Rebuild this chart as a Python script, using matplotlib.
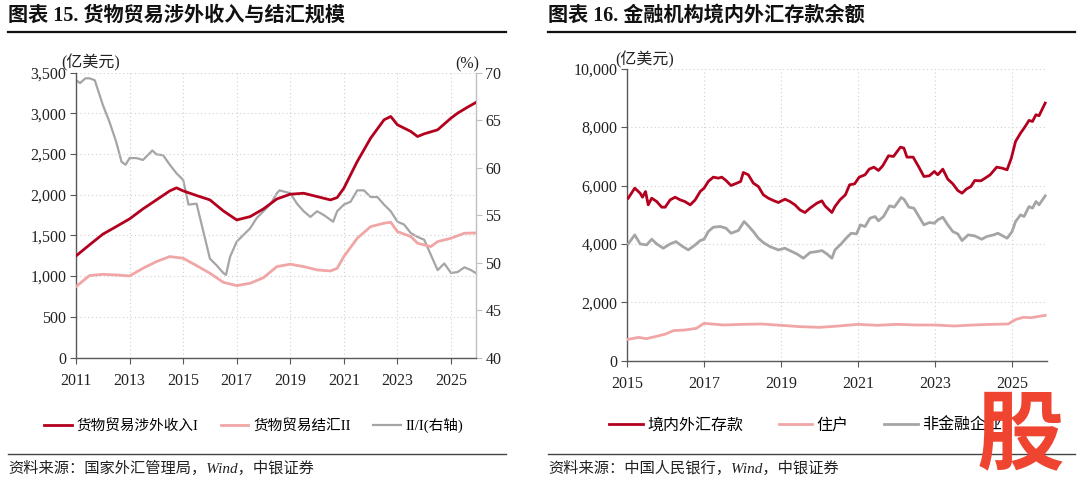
import numpy as np
import matplotlib
matplotlib.use("Agg")
import matplotlib.pyplot as plt
from matplotlib.lines import Line2D

plt.rcParams['font.family'] = ['Liberation Serif', 'Noto Sans CJK SC', 'DejaVu Sans']
plt.rcParams['axes.unicode_minus'] = False

#### Données : graphique 15 ####

# 货物贸易涉外收入I (亿美元)
t_inc = [2011.0, 2011.5, 2012.0, 2012.5, 2013.0, 2013.5, 2014.0, 2014.5, 2014.75, 2015.0,
         2015.5, 2016.0, 2016.5, 2017.0, 2017.5, 2018.0, 2018.5, 2019.0, 2019.5, 2020.0,
         2020.5, 2020.75, 2021.0, 2021.5, 2022.0, 2022.5, 2022.75, 2023.0, 2023.5, 2023.75,
         2024.0, 2024.5, 2025.0, 2025.25, 2025.6, 2025.92]
v_inc = [1248, 1383, 1515, 1608, 1703, 1826, 1936, 2047, 2084, 2047,
         1990, 1936, 1801, 1690, 1731, 1826, 1948, 2006, 2018, 1977,
         1936, 1965, 2080, 2408, 2695, 2920, 2961, 2859, 2777, 2715,
         2748, 2797, 2941, 3002, 3072, 3131]

# 货物贸易结汇II (亿美元)
t_set = [2011.0, 2011.5, 2012.0, 2012.5, 2013.0, 2013.5, 2014.0, 2014.5, 2015.0, 2015.5,
         2016.0, 2016.5, 2017.0, 2017.5, 2018.0, 2018.5, 2019.0, 2019.5, 2020.0, 2020.5,
         2020.75, 2021.0, 2021.5, 2022.0, 2022.5, 2022.75, 2023.0, 2023.5, 2023.75, 2024.0,
         2024.25, 2024.5, 2025.0, 2025.5, 2025.92]
v_set = [871, 1006, 1022, 1014, 1002, 1096, 1178, 1240, 1219, 1129,
         1035, 924, 883, 912, 981, 1117, 1146, 1117, 1076, 1063,
         1096, 1240, 1465, 1608, 1650, 1662, 1547, 1486, 1404, 1383,
         1363, 1424, 1465, 1527, 1530]

# II/I (%, 右轴)
t_ratio = [2011.0, 2011.15, 2011.35, 2011.5, 2011.7, 2012.0, 2012.25, 2012.5, 2012.7, 2012.85,
           2013.0, 2013.25, 2013.5, 2013.85, 2014.0, 2014.25, 2014.5, 2014.75, 2015.0, 2015.2,
           2015.5, 2015.75, 2016.0, 2016.25, 2016.5, 2016.6, 2016.75, 2017.0, 2017.25, 2017.5,
           2017.75, 2018.0, 2018.27, 2018.5, 2018.6, 2019.0, 2019.25, 2019.5, 2019.75, 2020.0,
           2020.25, 2020.5, 2020.6, 2020.75, 2021.0, 2021.25, 2021.5, 2021.75, 2022.0, 2022.25,
           2022.5, 2022.75, 2023.0, 2023.25, 2023.5, 2023.75, 2024.0, 2024.25, 2024.5, 2024.75,
           2025.0, 2025.25, 2025.5, 2025.75, 2025.92]
v_ratio = [69.2, 68.9, 69.4, 69.4, 69.2, 66.6, 64.8, 62.7, 60.6, 60.3,
           61.0, 61.0, 60.8, 61.8, 61.4, 61.3, 60.3, 59.4, 58.7, 56.1,
           56.2, 53.3, 50.4, 49.7, 48.9, 48.7, 50.6, 52.2, 52.9, 53.6,
           54.7, 55.4, 56.2, 57.3, 57.6, 57.3, 56.2, 55.4, 54.8, 55.4,
           55.0, 54.5, 54.3, 55.4, 56.1, 56.4, 57.6, 57.6, 56.9, 56.9,
           56.1, 55.4, 54.3, 54.0, 53.1, 52.7, 52.4, 50.8, 49.2, 49.9,
           48.9, 49.0, 49.5, 49.2, 48.9]

#### Données : graphique 16 ####

# 境内外汇存款 (亿美元)
t_dep = [2015.03, 2015.2, 2015.34, 2015.4, 2015.48, 2015.55, 2015.64, 2015.77, 2015.9, 2015.99,
         2016.12, 2016.25, 2016.38, 2016.5, 2016.64, 2016.77, 2016.9, 2017.0, 2017.11, 2017.24,
         2017.37, 2017.46, 2017.57, 2017.7, 2017.85, 2017.95, 2018.02, 2018.15, 2018.28, 2018.41,
         2018.54, 2018.67, 2018.8, 2018.93, 2019.1, 2019.23, 2019.36, 2019.49, 2019.62, 2019.75,
         2019.93, 2020.06, 2020.14, 2020.32, 2020.4, 2020.53, 2020.67, 2020.78, 2020.91, 2021.03,
         2021.18, 2021.29, 2021.41, 2021.53, 2021.64, 2021.79, 2021.92, 2022.1, 2022.19, 2022.27,
         2022.43, 2022.58, 2022.71, 2022.85, 2022.98, 2023.07, 2023.2, 2023.33, 2023.46, 2023.59,
         2023.7, 2023.81, 2023.93, 2024.03, 2024.19, 2024.3, 2024.43, 2024.6, 2024.74, 2024.87,
         2024.98, 2025.09, 2025.22, 2025.33, 2025.44, 2025.53, 2025.62, 2025.7, 2025.86]
v_dep = [5566, 5909, 5738, 5600, 5795, 5338, 5566, 5452, 5258, 5258,
         5509, 5600, 5509, 5452, 5338, 5509, 5795, 5909, 6138, 6287,
         6252, 6287, 6172, 6001, 6081, 6138, 6447, 6367, 6081, 5966,
         5681, 5566, 5486, 5418, 5532, 5452, 5338, 5166, 5075, 5224,
         5395, 5475, 5304, 5075, 5281, 5509, 5681, 6024, 6058, 6287,
         6367, 6561, 6629, 6515, 6675, 7018, 6995, 7315, 7281, 6972,
         6972, 6629, 6309, 6332, 6481, 6367, 6561, 6218, 6058, 5829,
         5738, 5875, 5966, 6172, 6161, 6252, 6367, 6629, 6595, 6538,
         6938, 7509, 7795, 8001, 8230, 8195, 8424, 8390, 8824]

# 住户 (亿美元)
t_hh = [2015.03, 2015.3, 2015.5, 2015.8, 2016.0, 2016.2, 2016.5, 2016.8, 2017.0, 2017.5,
        2018.0, 2018.5, 2019.0, 2019.5, 2020.0, 2020.5, 2021.0, 2021.5, 2022.0, 2022.5,
        2023.0, 2023.5, 2024.0, 2024.5, 2024.9, 2025.1, 2025.3, 2025.5, 2025.86]
v_hh = [731, 800, 754, 846, 914, 1029, 1052, 1109, 1280, 1223,
        1246, 1257, 1212, 1166, 1143, 1189, 1246, 1212, 1246, 1223,
        1223, 1189, 1223, 1246, 1257, 1417, 1486, 1474, 1554]

# 非金融企业 (亿美元)
t_corp = [2015.03, 2015.2, 2015.34, 2015.51, 2015.64, 2015.77, 2015.94, 2016.12, 2016.27, 2016.42,
          2016.59, 2016.77, 2016.9, 2017.0, 2017.11, 2017.24, 2017.42, 2017.57, 2017.7, 2017.89,
          2018.04, 2018.15, 2018.28, 2018.41, 2018.54, 2018.71, 2018.93, 2019.1, 2019.28, 2019.41,
          2019.58, 2019.75, 2019.93, 2020.06, 2020.19, 2020.32, 2020.4, 2020.56, 2020.69, 2020.82,
          2020.96, 2021.06, 2021.18, 2021.31, 2021.44, 2021.53, 2021.66, 2021.82, 2021.94, 2022.12,
          2022.19, 2022.32, 2022.45, 2022.58, 2022.71, 2022.85, 2022.98, 2023.07, 2023.2, 2023.33,
          2023.46, 2023.59, 2023.7, 2023.86, 2024.03, 2024.21, 2024.34, 2024.52, 2024.63, 2024.87,
          2025.0, 2025.09, 2025.22, 2025.31, 2025.44, 2025.53, 2025.62, 2025.7, 2025.86]
v_corp = [4000, 4309, 4000, 3966, 4160, 4000, 3852, 4000, 4080, 3932,
          3795, 3966, 4115, 4160, 4423, 4572, 4595, 4538, 4366, 4458,
          4766, 4618, 4423, 4195, 4046, 3909, 3795, 3852, 3738, 3658,
          3509, 3703, 3738, 3772, 3658, 3509, 3795, 4000, 4195, 4366,
          4343, 4652, 4595, 4881, 4938, 4789, 4938, 5304, 5258, 5589,
          5532, 5258, 5224, 4938, 4652, 4732, 4709, 4823, 4915, 4652,
          4423, 4343, 4115, 4309, 4275, 4160, 4252, 4309, 4366, 4195,
          4423, 4766, 4995, 4938, 5281, 5224, 5452, 5338, 5646]

#### Style ####

c_red = '#B3001E'
c_pink = '#F0A6A6'
c_gray = '#A5A5A5'
c_axis = '#595959'
fs = 11.5

def habiller(ax, years):
    ax.set_xticks(years)
    ax.set_xticklabels([str(y) for y in years])
    ax.grid(True, color='#D0D0D0', linestyle=(0, (1, 2.5)), linewidth=0.8)
    ax.set_axisbelow(True)
    ax.spines['top'].set_visible(False)
    ax.spines['right'].set_visible(False)
    for s in ['left', 'bottom']:
        ax.spines[s].set_color(c_axis)
        ax.spines[s].set_linewidth(1.0)
    ax.tick_params(axis='both', direction='out', length=4, color=c_axis, labelsize=fs,
                   labelcolor='#222222', pad=3)
    ax.tick_params(axis='x', pad=7)

fig = plt.figure(figsize=(10.8, 4.86), dpi=100)

#### Graphique 15 ####

ax1 = fig.add_axes([0.0704, 0.2644, 0.370, 0.5862])
ax1.plot(t_inc, v_inc, color=c_red, lw=2.0, label='货物贸易涉外收入I', zorder=3)
ax1.plot(t_set, v_set, color=c_pink, lw=2.0, label='货物贸易结汇II', zorder=3)
ax1.set_xlim(2011, 2025.92)
ax1.set_ylim(0, 3500)
ax1.set_yticks(np.arange(0, 3501, 500))
ax1.set_yticklabels([f'{v:,}' for v in range(0, 3501, 500)])
habiller(ax1, list(range(2011, 2026, 2)))

ax1b = ax1.twinx()
ax1b.plot(t_ratio, v_ratio, color=c_gray, lw=1.6, label='II/I(右轴)', zorder=2)
ax1b.set_ylim(40, 70)
ax1b.set_yticks(np.arange(40, 71, 5))
for s in ['top', 'left', 'bottom']:
    ax1b.spines[s].set_visible(False)
ax1b.spines['right'].set_color('#BFBFBF')
ax1b.spines['right'].set_linewidth(1.0)
ax1b.tick_params(axis='y', direction='out', length=4, color='#BFBFBF', labelsize=fs,
                 labelcolor='#222222', pad=3)
ax1.set_zorder(ax1b.get_zorder() + 1)
ax1.patch.set_visible(False)

ax1.text(-0.038, 1.005, '(亿美元)', transform=ax1.transAxes, fontsize=fs, color='#222222',
         ha='left', va='bottom')
ax1.text(1.01, 1.0, '(%)', transform=ax1.transAxes, fontsize=fs, color='#222222',
         ha='right', va='bottom')

h1 = ax1.get_lines() + ax1b.get_lines()
fig.legend(handles=h1, labels=[l.get_label() for l in h1], loc='center',
           bbox_to_anchor=(0.235, 0.125), ncol=3, frameon=False, fontsize=10.5,
           handlelength=1.9, handletextpad=0.35, columnspacing=1.5)

#### Graphique 16 ####

ax2 = fig.add_axes([0.5806, 0.2578, 0.3886, 0.6008])
ax2.plot(t_dep, v_dep, color=c_red, lw=2.0, label='境内外汇存款', zorder=3)
ax2.plot(t_hh, v_hh, color=c_pink, lw=2.0, label='住户', zorder=3)
ax2.plot(t_corp, v_corp, color=c_gray, lw=2.0, label='非金融企业', zorder=3)
ax2.set_xlim(2015, 2025.9)
ax2.set_ylim(0, 10000)
ax2.set_yticks(np.arange(0, 10001, 2000))
ax2.set_yticklabels([f'{v:,}' for v in range(0, 10001, 2000)])
habiller(ax2, list(range(2015, 2026, 2)))
ax2.text(-0.027, 1.0, '(亿美元)', transform=ax2.transAxes, fontsize=fs, color='#222222',
         ha='left', va='bottom')

fig.legend(handles=ax2.get_lines(), labels=[l.get_label() for l in ax2.get_lines()],
           loc='center', bbox_to_anchor=(0.746, 0.125), ncol=3, frameon=False, fontsize=11.5,
           handlelength=2.1, handletextpad=0.3, columnspacing=2.2)

#### Titres, filets, sources ####

fig.text(8 / 1080, 1 - 16 / 486, '图表 15. 货物贸易涉外收入与结汇规模', fontsize=14.5,
         fontweight='bold', ha='left', va='center', color='#111111')
fig.text(548 / 1080, 1 - 16 / 486, '图表 16. 金融机构境内外汇存款余额', fontsize=14.5,
         fontweight='bold', ha='left', va='center', color='#111111')

y_top = 1 - 32 / 486
y_bot = 1 - 454 / 486
fig.add_artist(Line2D([8 / 1080, 506 / 1080], [y_top, y_top], color='#111111', lw=1.6))
fig.add_artist(Line2D([548 / 1080, 1075 / 1080], [y_top, y_top], color='#111111', lw=1.6))
fig.add_artist(Line2D([8 / 1080, 506 / 1080], [y_bot, y_bot], color='#444444', lw=1.0))
fig.add_artist(Line2D([548 / 1080, 1075 / 1080], [y_bot, y_bot], color='#444444', lw=1.0))

fig.text(8 / 1080, 1 - 468 / 486, '资料来源：国家外汇管理局，Wind，中银证券', fontsize=11,
         style='italic', ha='left', va='center', color='#222222')
fig.text(548 / 1080, 1 - 468 / 486, '资料来源：中国人民银行，Wind，中银证券', fontsize=11,
         style='italic', ha='left', va='center', color='#222222')

# logo rouge dans le coin
fig.text(1020 / 1080, 1 - 437 / 486, '股', fontsize=63, fontweight='bold', color='#EE4430',
         ha='center', va='center', family='Noto Sans CJK SC', zorder=10)

fig.savefig('out.png', dpi=100)
